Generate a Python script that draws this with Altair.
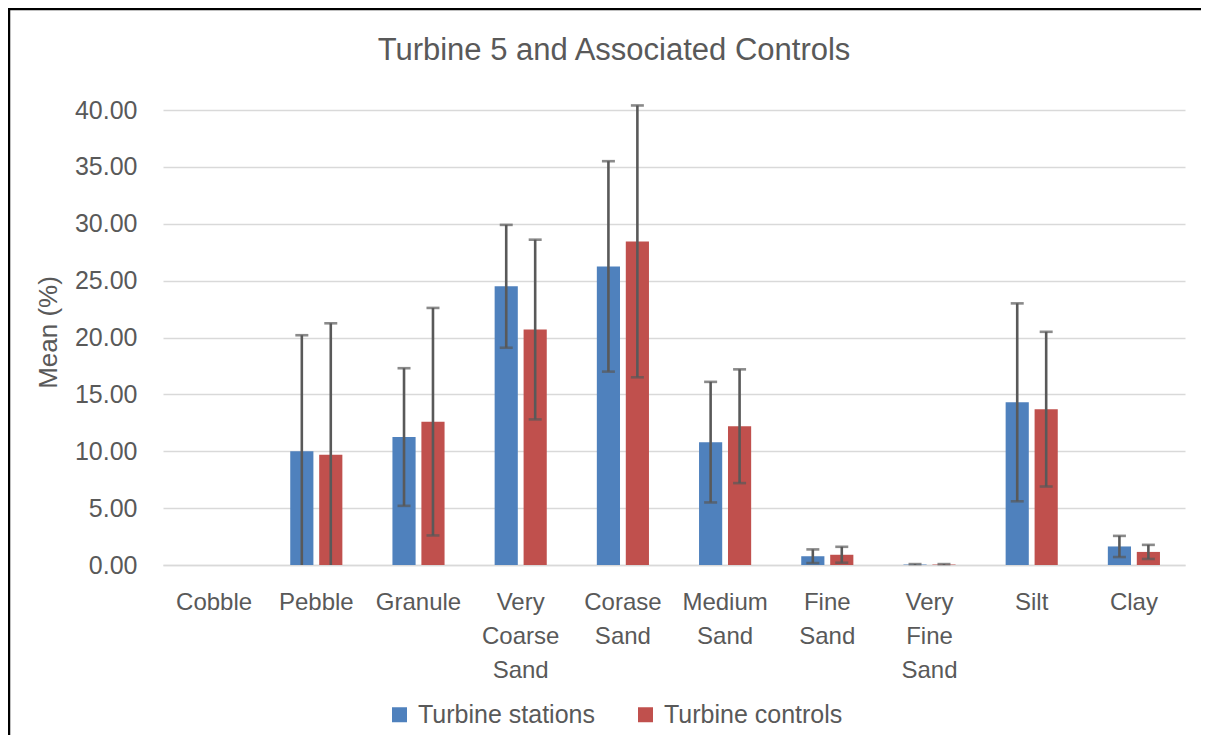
import altair as alt
import pandas as pd

title_text = ["Turbine 5 and Associated Controls"]
categories = ["Cobble", "Pebble", "Granule", "Very Coarse Sand", "Corase Sand",
              "Medium Sand", "Fine Sand", "Very Fine Sand", "Silt", "Clay"]
series = ["Turbine stations", "Turbine controls"]
stations_mean = [0.0, 10.0, 11.25, 24.5, 26.25, 10.8, 0.77, 0.04, 14.3, 1.63]
stations_err = [0.0, 10.2, 6.05, 5.4, 9.25, 5.3, 0.6, 0.04, 8.7, 0.93]
controls_mean = [0.0, 9.7, 12.6, 20.7, 28.45, 12.2, 0.9, 0.04, 13.7, 1.15]
controls_err = [0.0, 11.55, 10.0, 7.9, 11.95, 5.0, 0.7, 0.04, 6.8, 0.62]
y_ticks = [0, 5, 10, 15, 20, 25, 30, 35, 40]

colors = ["#4F81BD", "#C0504D"]
TXT = "#595959"
FONT = "Liberation Sans"

rows = []
for s, means, errs in [(series[0], stations_mean, stations_err),
                       (series[1], controls_mean, controls_err)]:
    for c, m, e in zip(categories, means, errs):
        rows.append({"category": c, "series": s, "mean": m, "err": e,
                     "lo": max(0.0, m - e), "hi": m + e})
df = pd.DataFrame(rows)

caps = []
for r in rows:
    if r["err"] > 0:
        caps.append({"category": r["category"], "series": r["series"], "v": r["hi"]})
        if r["mean"] - r["err"] > 0:
            caps.append({"category": r["category"], "series": r["series"], "v": r["mean"] - r["err"]})
caps_df = pd.DataFrame(caps)

x_enc = alt.X("category:N", sort=categories, title=None,
              scale=alt.Scale(domain=categories, paddingInner=0.49, paddingOuter=0.245),
              axis=alt.Axis(labelExpr="split(datum.label, ' ')", labelAngle=0,
                            labelFont=FONT, labelFontSize=24, labelColor=TXT,
                            labelLineHeight=34, labelPadding=25, ticks=False,
                            domainColor="#D9D9D9", domainWidth=1.3, grid=False))
xo_enc = alt.XOffset("series:N", sort=series,
                     scale=alt.Scale(domain=series, paddingInner=0.2, paddingOuter=0))
y_scale = alt.Scale(domain=[0, 40], nice=False)

bars = alt.Chart(df).mark_bar().encode(
    x=x_enc,
    xOffset=xo_enc,
    y=alt.Y("mean:Q", scale=y_scale, title="Mean (%)",
            axis=alt.Axis(values=y_ticks, format=".2f", labelFont=FONT, labelFontSize=25,
                          labelColor=TXT, labelPadding=26, ticks=False, tickSize=0,
                          domain=False, gridColor="#D9D9D9", gridWidth=1.3,
                          titleFont=FONT, titleFontSize=26, titleColor=TXT,
                          titleFontWeight="normal", titleAngle=-90, titleAlign="center",
                          titleBaseline="middle", titleX=-115, titleY=222)),
    color=alt.Color("series:N", sort=series,
                    scale=alt.Scale(domain=series, range=colors),
                    legend=alt.Legend(title=None, orient="none", direction="horizontal",
                                      legendX=224, legendY=592, symbolType="square",
                                      symbolSize=225, symbolStrokeWidth=0,
                                      labelFont=FONT, labelFontSize=25, labelColor=TXT,
                                      labelLimit=0, labelOffset=6, columnPadding=38)),
)

rules = alt.Chart(df).mark_rule(color="#595959", strokeWidth=2.6).encode(
    x=x_enc, xOffset=xo_enc, y=alt.Y("lo:Q", scale=y_scale), y2="hi:Q")

ticks = alt.Chart(caps_df).mark_tick(color="#595959", thickness=2.6, size=13).encode(
    x=x_enc, xOffset=xo_enc, y=alt.Y("v:Q", scale=y_scale))

title = alt.Chart(pd.DataFrame({"t": title_text})).mark_text(
    font=FONT, fontSize=31, color=TXT, align="center", baseline="alphabetic").encode(
    text="t:N", x=alt.value(451), y=alt.value(-50))

one = pd.DataFrame({"a": [0]})
border_left = alt.Chart(one).mark_rule(color="black", strokeWidth=2.5).encode(
    x=alt.value(-154), y=alt.value(-101), y2=alt.value(700))
border_top = alt.Chart(one).mark_rule(color="black", strokeWidth=2.5).encode(
    x=alt.value(-155), x2=alt.value(1100), y=alt.value(-101))

chart = alt.layer(bars, rules, ticks, title, border_left, border_top).properties(
    width=1022, height=455,
    autosize=alt.AutoSizeParams(type="none"),
    padding={"left": 155, "top": 102, "right": 16, "bottom": 170},
).configure_view(stroke=None)

chart.save("out.html", embed_options={"renderer": "svg", "actions": False})
